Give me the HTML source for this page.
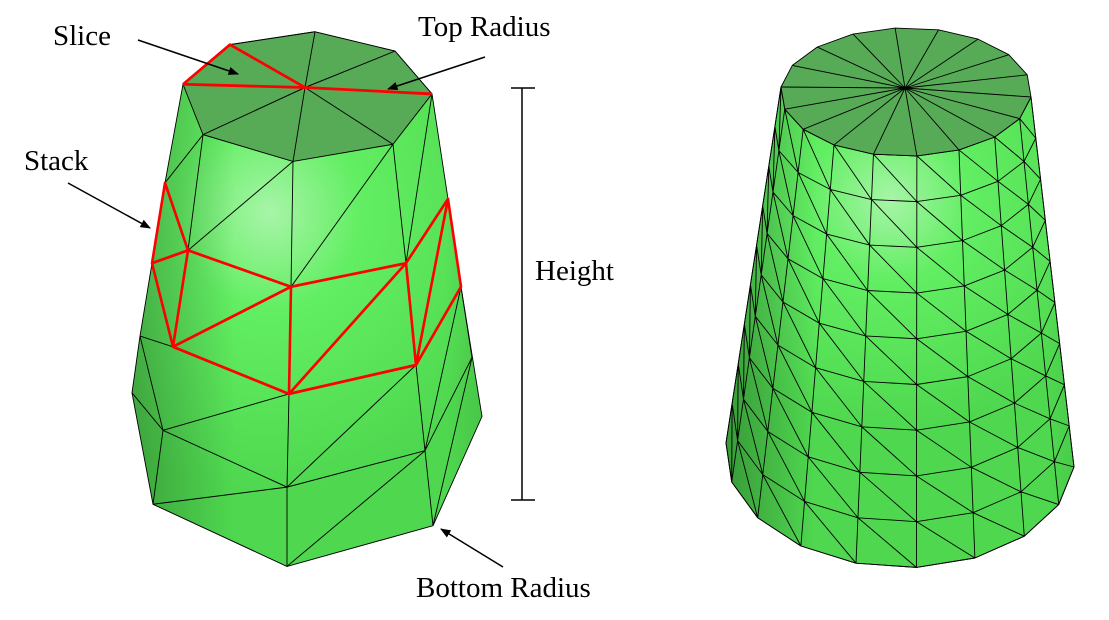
<!DOCTYPE html>
<html><head><meta charset="utf-8"><style>
html,body{margin:0;padding:0;background:#fff;}
svg{display:block;}
text{font-family:"Liberation Serif",serif;font-size:29px;fill:#000;}
</style></head><body>
<svg id="s" width="1109" height="620" viewBox="0 0 1109 620" xmlns="http://www.w3.org/2000/svg">
<defs>
<radialGradient id="hl" cx="270" cy="200" r="260" gradientUnits="userSpaceOnUse">
<stop offset="0" stop-color="#a8f5a8"/><stop offset="0.35" stop-color="#62ee62"/><stop offset="1" stop-color="#4fd84f"/></radialGradient>
<linearGradient id="sd" x1="130" y1="0" x2="480" y2="0" gradientUnits="userSpaceOnUse">
<stop offset="0" stop-color="#000" stop-opacity="0.25"/><stop offset="0.3" stop-color="#000" stop-opacity="0"/><stop offset="0.9" stop-color="#000" stop-opacity="0"/><stop offset="1" stop-color="#000" stop-opacity="0.08"/></linearGradient>
<radialGradient id="hl2" cx="890" cy="200" r="230" gradientUnits="userSpaceOnUse">
<stop offset="0" stop-color="#a8f5a8"/><stop offset="0.35" stop-color="#62ee62"/><stop offset="1" stop-color="#4fd84f"/></radialGradient>
<linearGradient id="sd2" x1="727" y1="0" x2="1083" y2="0" gradientUnits="userSpaceOnUse">
<stop offset="0" stop-color="#000" stop-opacity="0.28"/><stop offset="0.25" stop-color="#000" stop-opacity="0"/><stop offset="0.9" stop-color="#000" stop-opacity="0"/><stop offset="1" stop-color="#000" stop-opacity="0.08"/></linearGradient>
<marker id="ar" viewBox="0 0 10 10" refX="9" refY="5" markerWidth="7" markerHeight="7" orient="auto"><path d="M0,1 L10,5 L0,9 Z" fill="#000"/></marker>
</defs>
<g transform="matrix(1,0,0,1.0714,0,-1.428)">
<!-- left shape -->
<g stroke="#000" stroke-width="0.9" stroke-linejoin="round">
<polygon points="183,80 230,43 315,31 395,49 432,89 448,187 461,269 482,390 433,492 287,530 153,472 132,368 140,315 152,247 165,172" fill="url(#hl)" stroke="none"/>
<polygon points="183,80 230,43 315,31 395,49 432,89 448,187 461,269 482,390 433,492 287,530 153,472 132,368 140,315 152,247 165,172" fill="url(#sd)"/>
<polygon points="230,43 315,31 395,49 432,89 393,136 293,152 203,127 183,80" fill="#57ab57"/>
<path fill="none" d="M305,83 L230,43 M305,83 L315,31 M305,83 L395,49 M305,83 L432,89 M305,83 L393,136 M305,83 L293,152 M305,83 L203,127 M305,83 L183,80
M203,127 L165,172 M203,127 L188,235 M293,152 L188,235 M293,152 L291,269 M393,136 L291,269 M393,136 L406,247 M432,89 L406,247
M140,315 L163,403 M132,368 L163,403 M163,403 L289,369 M163,403 L287,456 M163,403 L153,472 M153,472 L287,456 M287,456 L289,369 M287,456 L416,342 M287,456 L425,422 M287,456 L287,530 M287,530 L425,422 M425,422 L416,342 M425,422 L433,492 M425,422 L461,269 M425,422 L472,335 M433,492 L472,335 M461,269 L472,335 M173,325 L140,315"/>
</g>
<g stroke="#f00" stroke-width="2.6" fill="none" stroke-linejoin="round">
<path d="M183,80 L230,43 L305,83 M183,80 L305,83 L432,89"/>
<path d="M165,172 L152,247 L188,235 Z M152,247 L173,325 L188,235 L291,269 L173,325 L289,369 L291,269 L406,247 L289,369 L416,342 L406,247 L448,187 L416,342 L461,269 L448,187"/>
</g>
</g>
<!-- right shape -->
<g id="R" stroke="#000" stroke-width="0.9" stroke-linejoin="round"></g>
<!-- annotations -->
<g stroke="#000" stroke-width="1.5" fill="none">
<line x1="522" y1="88" x2="522" y2="500"/><line x1="511" y1="88" x2="535" y2="88"/><line x1="511" y1="500" x2="535" y2="500"/>
<line x1="138" y1="40" x2="238" y2="74" marker-end="url(#ar)"/>
<line x1="485" y1="57" x2="388" y2="89" marker-end="url(#ar)"/>
<line x1="68" y1="183" x2="150" y2="228" marker-end="url(#ar)"/>
<line x1="503" y1="567" x2="441" y2="529" marker-end="url(#ar)"/>
</g>
<text x="53" y="45">Slice</text>
<text x="418" y="36">Top Radius</text>
<text x="24" y="170">Stack</text>
<text x="535" y="280">Height</text>
<text x="416" y="597">Bottom Radius</text>
</svg>
<script>
(function(){
var g=document.getElementById('R'),NS='http://www.w3.org/2000/svg';
var N=18,S=9;
var T={c:[906,92],u:[125,5],v:[-11,64]},B={c:[900,455],u:[174,12],v:[-14,112]};
function P(k,i){var f=k/S;var c=[T.c[0]+(B.c[0]-T.c[0])*f,T.c[1]+(B.c[1]-T.c[1])*f];
var u=[T.u[0]+(B.u[0]-T.u[0])*f,T.u[1]+(B.u[1]-T.u[1])*f];var v=[T.v[0]+(B.v[0]-T.v[0])*f,T.v[1]+(B.v[1]-T.v[1])*f];
var t=i*2*Math.PI/N;return [c[0]+Math.cos(t)*u[0]+Math.sin(t)*v[0],c[1]+Math.cos(t)*u[1]+Math.sin(t)*v[1]];}
function el(n,a){var e=document.createElementNS(NS,n);for(var k in a)e.setAttribute(k,a[k]);g.appendChild(e);return e;}
var sil=[];for(var i=0;i<=N/2;i++)sil.push(P(0,i));for(var k=1;k<=S;k++)sil.push(P(k,N/2));
for(var i=N/2;i>=0;i--)sil.push(P(S,i));for(var k=S-1;k>0;k--)sil.push(P(k,0));
var ps=sil.map(function(p){return p[0].toFixed(1)+','+p[1].toFixed(1)}).join(' ');
el('polygon',{points:ps,fill:'url(#hl2)',stroke:'none'});el('polygon',{points:ps,fill:'url(#sd2)',stroke:'#000'});
var d='';
for(var k=0;k<S;k++)for(var i=0;i<N/2;i++){var a=P(k,i),b=P(k,i+1),c=P(k+1,i+1),e=P(k+1,i);
d+='M'+a+'L'+b+'L'+c+'L'+e+'Z';
d+='M'+e+'L'+b;}
el('path',{d:d,fill:'none'});
var top=[];for(var i=0;i<N;i++)top.push(P(0,i));
el('polygon',{points:top.map(function(p){return p[0].toFixed(1)+','+p[1].toFixed(1)}).join(' '),fill:'#57ab57'});
var cc=[905,88],dd='';top.forEach(function(p){dd+='M'+cc+'L'+p;});el('path',{d:dd,fill:'none'});
})();
</script>
</body></html>
